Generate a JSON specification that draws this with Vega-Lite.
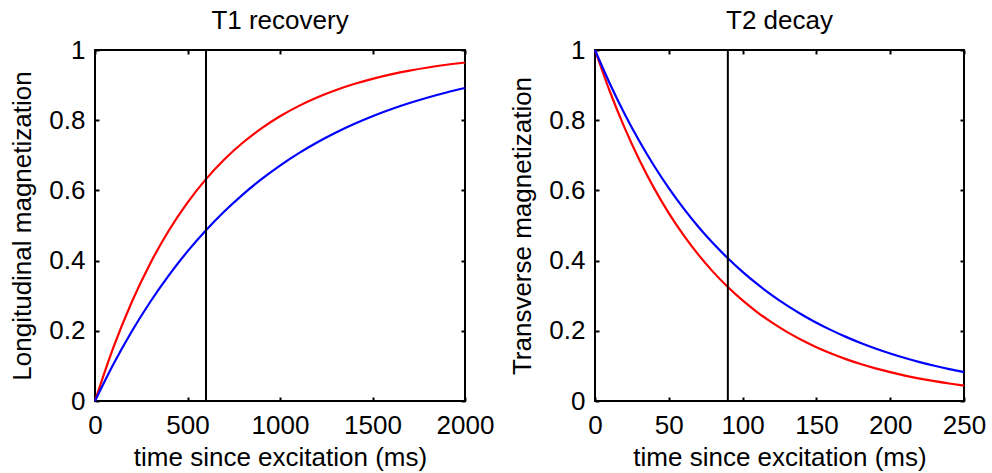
{
  "$schema": "https://vega.github.io/schema/vega-lite/v6.json",
  "padding": {"left": 8, "top": 7, "right": 5, "bottom": 5},
  "background": "white",
  "datasets": {
    "t1": [
      {"t": 0, "m": 0, "s": "A"}, {"t": 100, "m": 0.1535, "s": "A"}, {"t": 200, "m": 0.2835, "s": "A"}, {"t": 300, "m": 0.3935, "s": "A"}, {"t": 400, "m": 0.4866, "s": "A"}, {"t": 500, "m": 0.5654, "s": "A"}, {"t": 600, "m": 0.6321, "s": "A"}, {"t": 700, "m": 0.6886, "s": "A"}, {"t": 800, "m": 0.7364, "s": "A"}, {"t": 900, "m": 0.7769, "s": "A"}, {"t": 1000, "m": 0.8111, "s": "A"}, {"t": 1100, "m": 0.8401, "s": "A"}, {"t": 1200, "m": 0.8647, "s": "A"}, {"t": 1300, "m": 0.8854, "s": "A"}, {"t": 1400, "m": 0.9030, "s": "A"}, {"t": 1500, "m": 0.9179, "s": "A"}, {"t": 1600, "m": 0.9305, "s": "A"}, {"t": 1700, "m": 0.9412, "s": "A"}, {"t": 1800, "m": 0.9502, "s": "A"}, {"t": 1900, "m": 0.9579, "s": "A"}, {"t": 2000, "m": 0.9643, "s": "A"},
      {"t": 0, "m": 0, "s": "B"}, {"t": 100, "m": 0.1052, "s": "B"}, {"t": 200, "m": 0.1993, "s": "B"}, {"t": 300, "m": 0.2835, "s": "B"}, {"t": 400, "m": 0.3588, "s": "B"}, {"t": 500, "m": 0.4262, "s": "B"}, {"t": 600, "m": 0.4866, "s": "B"}, {"t": 700, "m": 0.5406, "s": "B"}, {"t": 800, "m": 0.5889, "s": "B"}, {"t": 900, "m": 0.6321, "s": "B"}, {"t": 1000, "m": 0.6708, "s": "B"}, {"t": 1100, "m": 0.7054, "s": "B"}, {"t": 1200, "m": 0.7364, "s": "B"}, {"t": 1300, "m": 0.7641, "s": "B"}, {"t": 1400, "m": 0.7889, "s": "B"}, {"t": 1500, "m": 0.8111, "s": "B"}, {"t": 1600, "m": 0.8310, "s": "B"}, {"t": 1700, "m": 0.8488, "s": "B"}, {"t": 1800, "m": 0.8647, "s": "B"}, {"t": 1900, "m": 0.8789, "s": "B"}, {"t": 2000, "m": 0.8916, "s": "B"}
    ],
    "t2": [
      {"t": 0, "m": 1, "s": "A"}, {"t": 10, "m": 0.8825, "s": "A"}, {"t": 20, "m": 0.7788, "s": "A"}, {"t": 30, "m": 0.6873, "s": "A"}, {"t": 40, "m": 0.6065, "s": "A"}, {"t": 50, "m": 0.5353, "s": "A"}, {"t": 60, "m": 0.4724, "s": "A"}, {"t": 70, "m": 0.4169, "s": "A"}, {"t": 80, "m": 0.3679, "s": "A"}, {"t": 90, "m": 0.3247, "s": "A"}, {"t": 100, "m": 0.2865, "s": "A"}, {"t": 110, "m": 0.2528, "s": "A"}, {"t": 120, "m": 0.2231, "s": "A"}, {"t": 130, "m": 0.1969, "s": "A"}, {"t": 140, "m": 0.1738, "s": "A"}, {"t": 150, "m": 0.1534, "s": "A"}, {"t": 160, "m": 0.1353, "s": "A"}, {"t": 170, "m": 0.1194, "s": "A"}, {"t": 180, "m": 0.1054, "s": "A"}, {"t": 190, "m": 0.0930, "s": "A"}, {"t": 200, "m": 0.0821, "s": "A"}, {"t": 210, "m": 0.0724, "s": "A"}, {"t": 220, "m": 0.0639, "s": "A"}, {"t": 230, "m": 0.0564, "s": "A"}, {"t": 240, "m": 0.0498, "s": "A"}, {"t": 250, "m": 0.0439, "s": "A"},
      {"t": 0, "m": 1, "s": "B"}, {"t": 10, "m": 0.9048, "s": "B"}, {"t": 20, "m": 0.8187, "s": "B"}, {"t": 30, "m": 0.7408, "s": "B"}, {"t": 40, "m": 0.6703, "s": "B"}, {"t": 50, "m": 0.6065, "s": "B"}, {"t": 60, "m": 0.5488, "s": "B"}, {"t": 70, "m": 0.4966, "s": "B"}, {"t": 80, "m": 0.4493, "s": "B"}, {"t": 90, "m": 0.4066, "s": "B"}, {"t": 100, "m": 0.3679, "s": "B"}, {"t": 110, "m": 0.3329, "s": "B"}, {"t": 120, "m": 0.3012, "s": "B"}, {"t": 130, "m": 0.2725, "s": "B"}, {"t": 140, "m": 0.2466, "s": "B"}, {"t": 150, "m": 0.2231, "s": "B"}, {"t": 160, "m": 0.2019, "s": "B"}, {"t": 170, "m": 0.1827, "s": "B"}, {"t": 180, "m": 0.1653, "s": "B"}, {"t": 190, "m": 0.1496, "s": "B"}, {"t": 200, "m": 0.1353, "s": "B"}, {"t": 210, "m": 0.1225, "s": "B"}, {"t": 220, "m": 0.1108, "s": "B"}, {"t": 230, "m": 0.1003, "s": "B"}, {"t": 240, "m": 0.0907, "s": "B"}, {"t": 250, "m": 0.0821, "s": "B"}
    ]
  },
  "spacing": 130,
  "bounds": "flush",
  "hconcat": [
    {
      "width": 370,
      "height": 351,
      "title": "T1 recovery",
      "layer": [
        {
          "data": {"name": "t1"},
          "mark": {"type": "line", "strokeWidth": 2.2, "interpolate": "monotone"},
          "encoding": {
            "x": {"field": "t", "type": "quantitative", "scale": {"domain": [0, 2000], "nice": false}, "axis": {"title": "time since excitation (ms)", "format": "d", "values": [0, 500, 1000, 1500, 2000]}},
            "y": {"field": "m", "type": "quantitative", "scale": {"domain": [0, 1], "nice": false}, "axis": {"title": "Longitudinal magnetization", "format": "~g", "values": [0, 0.2, 0.4, 0.6, 0.8, 1]}},
            "color": {"field": "s", "type": "nominal", "scale": {"domain": ["A", "B"], "range": ["#ff0000", "#0000ff"]}, "legend": null}
          }
        },
        {
          "data": {"values": [{"t": 600, "lo": 0, "hi": 1}]},
          "mark": {"type": "rule", "color": "black", "strokeWidth": 2},
          "encoding": {
            "x": {"field": "t", "type": "quantitative", "axis": {"orient": "top", "labels": false, "title": null, "values": [0, 500, 1000, 1500, 2000]}},
            "y": {"field": "lo", "type": "quantitative", "axis": {"orient": "right", "labels": false, "title": null, "values": [0, 0.2, 0.4, 0.6, 0.8, 1]}},
            "y2": {"field": "hi"}
          }
        }
      ],
      "resolve": {"axis": {"x": "independent", "y": "independent"}}
    },
    {
      "width": 369,
      "height": 351,
      "title": "T2 decay",
      "layer": [
        {
          "data": {"name": "t2"},
          "mark": {"type": "line", "strokeWidth": 2.2, "interpolate": "monotone"},
          "encoding": {
            "x": {"field": "t", "type": "quantitative", "scale": {"domain": [0, 250], "nice": false}, "axis": {"title": "time since excitation (ms)", "format": "d", "values": [0, 50, 100, 150, 200, 250]}},
            "y": {"field": "m", "type": "quantitative", "scale": {"domain": [0, 1], "nice": false}, "axis": {"title": "Transverse magnetization", "format": "~g", "values": [0, 0.2, 0.4, 0.6, 0.8, 1]}},
            "color": {"field": "s", "type": "nominal", "scale": {"domain": ["A", "B"], "range": ["#ff0000", "#0000ff"]}, "legend": null}
          }
        },
        {
          "data": {"values": [{"t": 90, "lo": 0, "hi": 1}]},
          "mark": {"type": "rule", "color": "black", "strokeWidth": 2},
          "encoding": {
            "x": {"field": "t", "type": "quantitative", "axis": {"orient": "top", "labels": false, "title": null, "values": [0, 50, 100, 150, 200, 250]}},
            "y": {"field": "lo", "type": "quantitative", "axis": {"orient": "right", "labels": false, "title": null, "values": [0, 0.2, 0.4, 0.6, 0.8, 1]}},
            "y2": {"field": "hi"}
          }
        }
      ],
      "resolve": {"axis": {"x": "independent", "y": "independent"}}
    }
  ],
  "resolve": {"scale": {"color": "independent"}},
  "config": {
    "font": "Liberation Sans",
    "view": {"stroke": "black", "strokeWidth": 2},
    "axis": {
      "domain": false,
      "grid": false,
      "tickSize": -4,
      "tickColor": "black",
      "tickWidth": 2,
      "labelFont": "Liberation Sans",
      "labelFontSize": 26,
      "labelColor": "black",
      "labelFlush": false,
      "labelOverlap": false,
      "titleFont": "Liberation Sans",
      "titleFontSize": 26,
      "titleFontWeight": "normal",
      "titleColor": "black"
    },
    "axisX": {"labelPadding": 15, "titlePadding": 6},
    "axisY": {"labelPadding": 14, "titlePadding": 13},
    "title": {"font": "Liberation Sans", "fontSize": 26, "fontWeight": "normal", "color": "black", "offset": 3}
  }
}
